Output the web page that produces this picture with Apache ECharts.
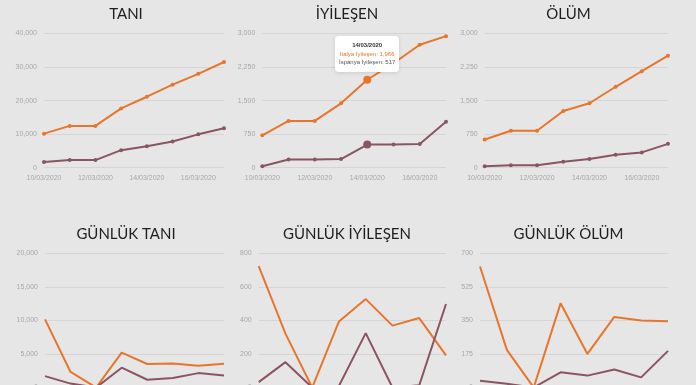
<!DOCTYPE html>
<html>
<head>
<meta charset="utf-8">
<script src="https://cdn.jsdelivr.net/npm/echarts@6/dist/echarts.min.js"></script>
<style>
html,body{margin:0;padding:0;background:#e6e6e6;}
#c{width:696px;height:385px;}
</style>
</head>
<body>
<div id="c"></div>
<script>
const dates = ['10/03/2020','11/03/2020','12/03/2020','13/03/2020','14/03/2020','15/03/2020','16/03/2020','17/03/2020'];
const italyCases = [10149, 12462, 12462, 17660, 21157, 24747, 27980, 31506];
const spainCases = [1695, 2277, 2277, 5232, 6391, 7798, 9942, 11748];
const italyRecovered = [724, 1045, 1045, 1439, 1966, 2335, 2749, 2941];
const spainRecovered = [32, 183, 183, 193, 517, 517, 530, 1028];
const italyDeaths = [631, 827, 827, 1266, 1441, 1809, 2158, 2503];
const spainDeaths = [35, 54, 54, 133, 195, 289, 342, 533];
const italyDailyCases = [10149, 2313, 0, 5198, 3497, 3590, 3233, 3526];
const spainDailyCases = [1695, 582, 0, 2955, 1159, 1407, 2144, 1806];
const italyDailyRecovered = [724, 321, 0, 394, 527, 369, 414, 192];
const spainDailyRecovered = [32, 151, 0, 10, 324, 0, 13, 498];
const italyDailyDeaths = [631, 196, 0, 439, 175, 368, 349, 345];
const spainDailyDeaths = [35, 19, 0, 79, 62, 94, 53, 191];

const titles = ['TANI','İYİLEŞEN','ÖLÜM','GÜNLÜK TANI','GÜNLÜK İYİLEŞEN','GÜNLÜK ÖLÜM'];
const yMax = [40000, 3000, 3000, 20000, 800, 700];
const yStep = [10000, 750, 750, 5000, 200, 175];
const panels = [
  [italyCases, spainCases, 'Tanı'],
  [italyRecovered, spainRecovered, 'İyileşen'],
  [italyDeaths, spainDeaths, 'Ölüm'],
  [italyDailyCases, spainDailyCases, 'Günlük Tanı'],
  [italyDailyRecovered, spainDailyRecovered, 'Günlük İyileşen'],
  [italyDailyDeaths, spainDailyDeaths, 'Günlük Ölüm']
];

const ORANGE = '#e8752c';
const PURPLE = '#8a5560';
const FONT = 'Liberation Sans';

const grids = [
  {left:44, top:33.5, width:180, height:134.2},
  {left:262.3, top:33.5, width:183.7, height:134.2},
  {left:484.7, top:33.5, width:183.3, height:134.2},
  {left:45, top:253.3, width:179, height:134.2},
  {left:258.7, top:253.3, width:187.3, height:134.2},
  {left:480, top:253.3, width:188, height:134.2}
].map(g=>Object.assign(g,{outerBoundsMode:'none', containLabel:false}));
const titleX = [126, 347, 568.5, 126, 347, 568.5];
const titleY = [6.5, 6.5, 6.5, 226.5, 226.5, 226.5];

const chart = echarts.init(document.getElementById('c'), null, {renderer:'canvas'});
const HL = 4; // highlighted index in İyileşen panel

const option = {
  backgroundColor:'#e6e6e6',
  animation:false,
  title: titles.map((t,i)=>({text:t, left:titleX[i], top:titleY[i], textAlign:'center', padding:0,
    textStyle:{fontFamily:'Lato', fontWeight:'normal', fontSize:15, color:'#1e1e1e'}})),
  grid: grids,
  xAxis: grids.map((g,i)=>({gridIndex:i, type:'category', data:dates, boundaryGap:false,
    axisLine:{show:false}, axisTick:{show:false},
    axisLabel:{show: i<3, interval:1, fontSize:7, color:'#a8a8a8', fontFamily:FONT, margin:7}})),
  yAxis: grids.map((g,i)=>({gridIndex:i, type:'value', min:0, max:yMax[i], interval:yStep[i],
    axisLine:{show:false}, axisTick:{show:false},
    splitLine:{lineStyle:{color:'#d5d5d5', width:1}},
    axisLabel:{fontSize:7, color:'#a8a8a8', fontFamily:FONT, margin:7,
      formatter:v=>v.toLocaleString('en-US')}})),
  tooltip:{
    trigger:'item', alwaysShowContent:true, transitionDuration:0, showDelay:0,
    backgroundColor:'rgba(255,255,255,0.97)', borderWidth:0, borderRadius:4,
    padding:[5,4], extraCssText:'box-shadow:0 1px 4px rgba(0,0,0,0.12);',
    formatter:function(){
      return '<div style="font-family:Liberation Sans;font-size:6px;line-height:8.6px;text-align:center">'+
        '<div style="font-weight:bold;color:#333">'+dates[HL]+'</div>'+
        '<div style="color:'+ORANGE+'">İtalya İyileşen: '+italyRecovered[HL].toLocaleString('en-US')+'</div>'+
        '<div style="color:#555">İspanya İyileşen: '+spainRecovered[HL].toLocaleString('en-US')+'</div></div>';
    },
    position:function(pt, params, dom, rect, size){
      const p = chart.convertToPixel({seriesIndex:2}, [HL, italyRecovered[HL]]);
      return [p[0]-size.contentSize[0]/2, p[1]-size.contentSize[1]-8];
    }
  },
  series: []
};

panels.forEach((p,i)=>{
  const daily = i>=3;
  [[p[0], ORANGE, 'İtalya '+p[2]], [p[1], PURPLE, 'İspanya '+p[2]]].forEach(s=>{
    option.series.push({
      type:'line', name:s[2], xAxisIndex:i, yAxisIndex:i,
      data: s[0].map((v,k)=> (i===1 && k===HL) ? {value:v, symbolSize:8} : v),
      showSymbol:!daily, symbol:'circle', symbolSize:4,
      lineStyle:{color:s[1], width:2}, itemStyle:{color:s[1]},
      emphasis:{disabled:true}, silent:false
    });
  });
});

chart.setOption(option);
chart.dispatchAction({type:'showTip', seriesIndex:2, dataIndex:HL});
</script>
</body>
</html>
